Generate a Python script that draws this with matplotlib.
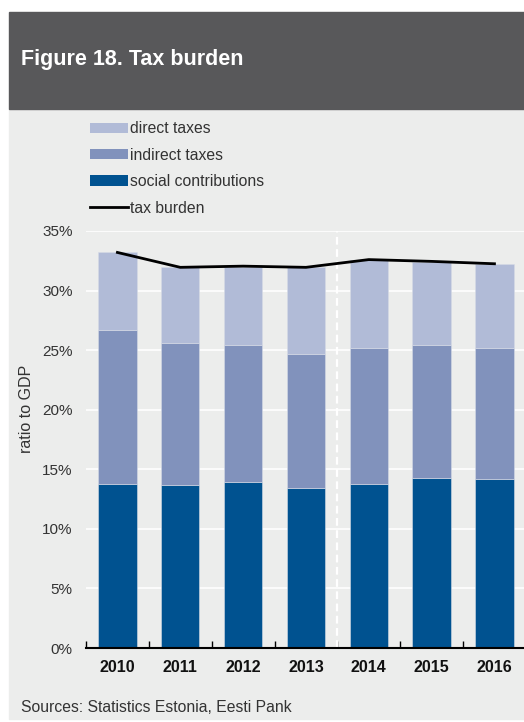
"""
Figure 18. Tax burden
"""
import numpy as np
import matplotlib
matplotlib.use('Agg')
import matplotlib.pyplot as plt
from matplotlib.patches import Rectangle, Patch
from matplotlib.lines import Line2D
from matplotlib.ticker import FuncFormatter

plt.rcParams['font.family'] = ['Liberation Sans', 'DejaVu Sans']

# データ（対GDP比, %）
years = ['2010', '2011', '2012', '2013', '2014', '2015', '2016']
social = [13.8, 13.65, 13.9, 13.4, 13.8, 14.25, 14.15]
indirect = [12.9, 11.95, 11.5, 11.3, 11.4, 11.15, 11.05]
direct = [6.55, 6.4, 6.6, 7.3, 7.4, 7.0, 7.05]
tax_burden = [33.2, 31.95, 32.05, 31.95, 32.6, 32.45, 32.25]

C_DIRECT = '#b1bbd7'
C_INDIRECT = '#8192bc'
C_SOCIAL = '#005290'
C_BG = '#ecedec'
C_HEADER = '#58585a'

fig = plt.figure(figsize=(5.24, 7.22), dpi=100)

# 背景とヘッダー
fig.patches.append(Rectangle((9 / 524, 0.004), 1, 1 - 109 / 722 - 0.004,
                             transform=fig.transFigure, color=C_BG, zorder=-10))
fig.patches.append(Rectangle((9 / 524, 1 - 109 / 722), 1, 97 / 722,
                             transform=fig.transFigure, color=C_HEADER, zorder=-10))
fig.text(21 / 524, 1 - 60 / 722, 'Figure 18. Tax burden', color='white',
         fontsize=15.5, fontweight='bold', va='center', ha='left')

ax = fig.add_axes([86 / 524, 1 - 648 / 722, 1 - 86 / 524, (648 - 231) / 722])
ax.set_facecolor(C_BG)
ax.set_zorder(1)

x = np.arange(len(years))
w = 0.61
ax.bar(x, social, w, color=C_SOCIAL, edgecolor='#d6dbe6', linewidth=0.4, zorder=3)
ax.bar(x, indirect, w, bottom=social, color=C_INDIRECT, edgecolor='#d6dbe6',
       linewidth=0.4, zorder=3)
bottom2 = np.array(social) + np.array(indirect)
ax.bar(x, direct, w, bottom=bottom2, color=C_DIRECT, edgecolor='#d6dbe6',
       linewidth=0.4, zorder=3)
ax.plot(x, tax_burden, color='black', linewidth=2, zorder=4)

# 予測期間の区切り線
ax.axvline(3.5, color='white', linestyle=(0, (3.5, 2)), linewidth=1.6, zorder=2)

ax.set_xlim(-0.5, 6.47)
ax.set_ylim(0, 35)
ax.set_yticks(np.arange(0, 36, 5))
ax.yaxis.set_major_formatter(FuncFormatter(lambda v, p: f'{v:.0f}%'))
ax.yaxis.grid(True, color='white', linewidth=1.2, zorder=1)
ax.set_axisbelow(True)

ax.set_xticks(x)
ax.set_xticklabels(years, fontweight='bold', fontsize=11.5, color='#111111')
ax.set_xticks(np.arange(-0.5, 6.0, 1), minor=True)
ax.tick_params(axis='x', which='major', length=0, pad=9)
ax.tick_params(axis='x', which='minor', direction='in', length=5, width=1, color='black')
ax.tick_params(axis='y', length=0, pad=9.5, labelsize=11, labelcolor='#333333')

for s in ['top', 'right', 'left']:
    ax.spines[s].set_visible(False)
ax.spines['bottom'].set_linewidth(1.5)
ax.spines['bottom'].set_zorder(5)

fig.text(27 / 524, 1 - 409 / 722, 'ratio to GDP', rotation=90, fontsize=11.5,
         color='#333333', ha='center', va='center')

# 凡例
handles = [Patch(facecolor=C_DIRECT, label='direct taxes'),
           Patch(facecolor=C_INDIRECT, label='indirect taxes'),
           Patch(facecolor=C_SOCIAL, label='social contributions'),
           Line2D([], [], color='black', linewidth=2, label='tax burden')]
leg = fig.legend(handles=handles, loc='upper left', bbox_to_anchor=(84 / 524, 1 - 115 / 722),
                 frameon=False, fontsize=11.3, handlelength=2.4, handleheight=0.65,
                 handletextpad=0.15, labelspacing=0.73, borderaxespad=0)
for t in leg.get_texts():
    t.set_color('#333333')

fig.text(21 / 524, 1 - 707 / 722, 'Sources: Statistics Estonia, Eesti Pank',
         fontsize=11.3, color='#333333', va='center', ha='left')

fig.savefig('out.png', dpi=100, facecolor='white')
